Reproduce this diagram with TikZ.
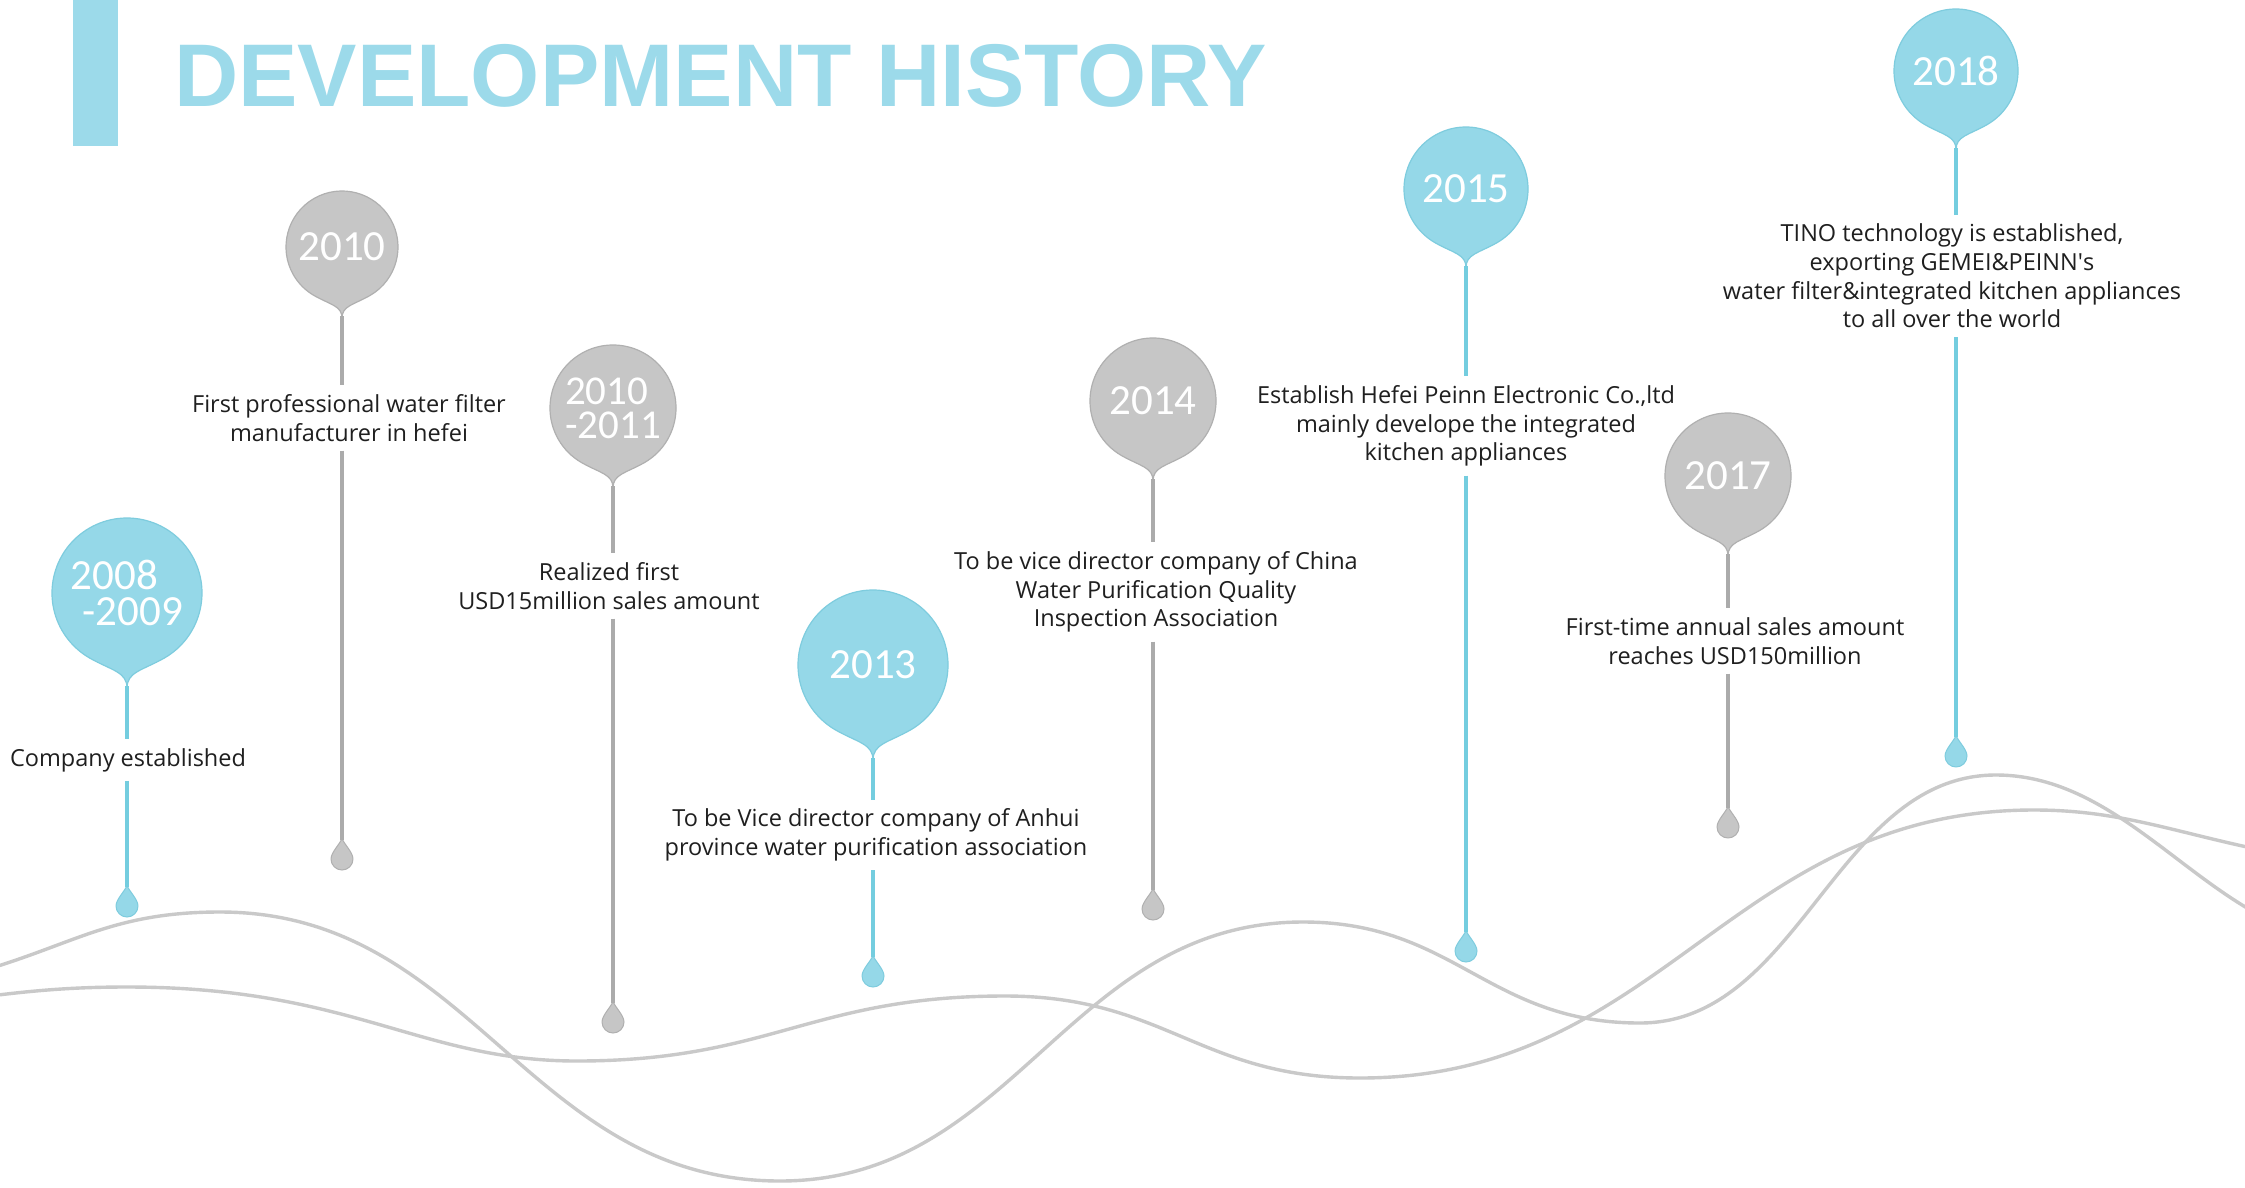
\documentclass[tikz,border=0pt]{standalone}
\usepackage{fontspec}
\setmainfont{Open Sans}
\newfontfamily\yearfont{Carlito}
\newfontfamily\titlefont{Liberation Sans}
\definecolor{pinblue}{HTML}{95D8E8}
\definecolor{pinblueedge}{HTML}{7ECCDE}
\definecolor{stemblue}{HTML}{74CDDF}
\definecolor{pingrey}{HTML}{C6C6C6}
\definecolor{pingreyedge}{HTML}{B0B0B0}
\definecolor{stemgrey}{HTML}{ABABAB}
\definecolor{wavegrey}{HTML}{C9C9C9}
\definecolor{titleblue}{HTML}{9CDAEA}
\tikzset{
  yearlabel/.style={text=white, inner sep=0pt, align=center, font=\yearfont\fontsize{43}{36}\selectfont},
  eventtext/.style={text=black!88, inner xsep=2pt, inner ysep=9pt, align=center, font=\fontsize{23.5}{28.6}\selectfont},
  stemb/.style={draw=stemblue, line width=3.6pt},
  stemg/.style={draw=stemgrey, line width=3.4pt},
  waveline/.style={draw=wavegrey, line width=3.4pt},
}
% pin balloon: #1 name, #2 x, #3 y (down), #4 radius, #5 fill, #6 edge, #7 label, #8 label style
\newcommand\pinballoon[8]{%
  \path[fill=#5, draw=#6, line width=1.2pt, line join=round]
    ({#2},{-#3-1.27*#4})
    .. controls +(0,{0.22*#4}) and +({-0.3*#4},{-0.17*#4}) .. ({#2+0.5*#4},{-#3-0.866*#4})
    arc[start angle=-60, end angle=240, radius={#4}]
    .. controls +({0.3*#4},{-0.17*#4}) and +(0,{0.22*#4}) .. ({#2},{-#3-1.27*#4}) -- cycle;
  \node[yearlabel, #8] (#1) at ({#2},{-#3}) {#7};
  \coordinate (#1-tip) at ({#2},{-#3-1.27*#4+2});
}
% drop: #1 name, #2 x, #3 bottom y (down), #4 fill, #5 edge
\newcommand\waterdrop[5]{%
  \path[fill=#4, draw=#5, line width=1pt, line join=round]
    ({#2},{-#3+32}) .. controls +(1,-5) and +(0,7) .. ({#2+11},{-#3+11})
    arc[start angle=0, end angle=-180, radius=11]
    .. controls +(0,7) and +(-1,-5) .. ({#2},{-#3+32}) -- cycle;
  \coordinate (#1) at ({#2},{-#3+30});
}
\begin{document}
\begin{tikzpicture}[x=1pt,y=1pt]
\useasboundingbox (0,0) rectangle (2245,-1188);
\fill[white] (0,0) rectangle (2245,-1188);

% title
\fill[titleblue] (73,0) rectangle (118,-146);
\node[anchor=base west, inner sep=0pt, text=titleblue,
      font=\titlefont\bfseries\fontsize{89}{89}\selectfont] (title) at (174,-107) {DEVELOPMENT HISTORY};

% waves
\draw[waveline] (-2,-966)
  .. controls (80,-940) and (120,-912) .. (220,-912)
  .. controls (472,-912) and (528,-1181) .. (780,-1181)
  .. controls (1015,-1181) and (1068,-922) .. (1303,-922)
  .. controls (1455,-922) and (1488,-1023) .. (1640,-1023)
  .. controls (1800,-1023) and (1836,-775) .. (1996,-775)
  .. controls (2096,-775) and (2165,-859) .. (2247,-908);
\draw[waveline] (-2,-995)
  .. controls (40,-990) and (77,-987) .. (127,-987)
  .. controls (352,-987) and (420,-1061) .. (577,-1061)
  .. controls (770,-1061) and (812,-996) .. (1005,-996)
  .. controls (1165,-996) and (1200,-1078) .. (1360,-1078)
  .. controls (1663,-1078) and (1731,-810) .. (2034,-810)
  .. controls (2114,-810) and (2165,-829) .. (2247,-847);

% balloons
\pinballoon{p1}{127}{593}{75}{pinblue}{pinblueedge}{2008\\\hspace*{12pt}-2009}{align=left}
\pinballoon{p2}{342}{247}{56}{pingrey}{pingreyedge}{2010}{}
\pinballoon{p3}{613}{408}{63}{pingrey}{pingreyedge}{2010\\-2011}{align=left, font=\yearfont\fontsize{41}{34}\selectfont}
\pinballoon{p4}{873}{665}{75}{pinblue}{pinblueedge}{2013}{}
\pinballoon{p5}{1153}{401}{63}{pingrey}{pingreyedge}{2014}{}
\pinballoon{p6}{1466}{189}{62}{pinblue}{pinblueedge}{2015}{}
\pinballoon{p7}{1728}{476}{63}{pingrey}{pingreyedge}{2017}{}
\pinballoon{p8}{1956}{71}{62}{pinblue}{pinblueedge}{2018}{}

% drops
\waterdrop{d1}{127}{917}{pinblue}{pinblueedge}
\waterdrop{d2}{342}{870}{pingrey}{pingreyedge}
\waterdrop{d3}{613}{1033}{pingrey}{pingreyedge}
\waterdrop{d4}{873}{987}{pinblue}{pinblueedge}
\waterdrop{d5}{1153}{920}{pingrey}{pingreyedge}
\waterdrop{d6}{1466}{962}{pinblue}{pinblueedge}
\waterdrop{d7}{1728}{838}{pingrey}{pingreyedge}
\waterdrop{d8}{1956}{767}{pinblue}{pinblueedge}

% event texts
\node[eventtext] (t1) at (128,-760) {Company established};
\node[eventtext] (t2) at (349,-418) {First professional water filter\\manufacturer in hefei};
\node[eventtext] (t3) at (609,-586) {Realized first\\USD15million sales amount};
\node[eventtext] (t4) at (876,-835) {To be Vice director company of Anhui\\province water purification association};
\node[eventtext] (t5) at (1156,-592) {To be vice director company of China\\Water Purification Quality\\Inspection Association};
\node[eventtext] (t6) at (1466,-426) {Establish Hefei Peinn Electronic Co.,ltd\\mainly develope the integrated\\kitchen appliances};
\node[eventtext] (t7) at (1735,-641) {First-time annual sales amount\\reaches USD150million};
\node[eventtext] (t8) at (1952,-276) {TINO technology is established,\\exporting GEMEI\&PEINN\textquotesingle s\\water filter\&integrated kitchen appliances\\to all over the world};

% stems
\foreach \i/\st in {1/stemb,2/stemg,3/stemg,4/stemb,5/stemg,6/stemb,7/stemg,8/stemb}{
  \draw[\st] (p\i-tip) -- (p\i-tip |- t\i.north);
  \draw[\st] (p\i-tip |- t\i.south) -- (d\i);
}
\end{tikzpicture}
\end{document}
